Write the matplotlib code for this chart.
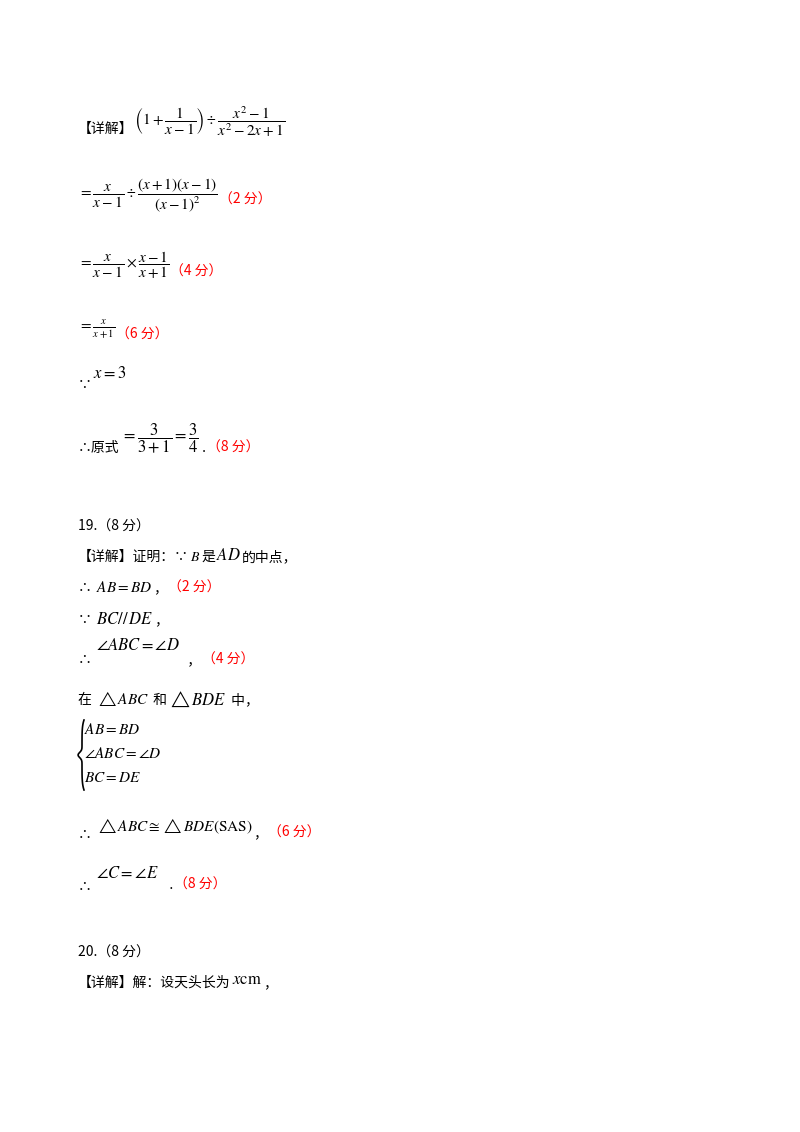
import matplotlib
matplotlib.use("Agg")
import matplotlib.pyplot as plt
from matplotlib.lines import Line2D
import numpy as np

plt.rcParams['font.family'] = ['Noto Sans CJK SC', 'DejaVu Sans']
plt.rcParams['mathtext.fontset'] = 'stix'

W, H = 800, 1132
RED = '#ff0000'
K = 'k'

# rows: (start_x_px, y_px_from_top, [(text, color, fontsize, dy_px), ...])
rows = [
    (78, 125, [("【详解】", K, 10, 4),
               (r"$\left(1+\dfrac{1}{x-1}\right)\div\dfrac{x^2-1}{x^2-2x+1}$", K, 11, -3)]),
    (78, 195, [(r"$=\dfrac{x}{x-1}\div\dfrac{(x+1)(x-1)}{(x-1)^2}$", K, 11, 0),
               ("（2 分）", RED, 10, 5)]),
    (78, 265, [(r"$=\dfrac{x}{x-1}\times\dfrac{x-1}{x+1}$", K, 11, 0),
               ("（4 分）", RED, 10, 7)]),
    (78, 330, [(r"$=\frac{x}{x+1}$", K, 11, 0),
               ("（6 分）", RED, 10, 5)]),
    (78, 377, [("∵", K, 10, 8), (r"$x=3$", K, 12, -4)]),
    (78, 441, [("∴原式", K, 10, 7), (r"$=\dfrac{3}{3+1}=\dfrac{3}{4}$", K, 12, -3),
               (" .", K, 10, 7), ("（8 分）", RED, 10, 7)]),
    (78, 527, [("19.（8 分）", K, 10, 0)]),
    (78, 557, [("【详解】证明：∵", K, 10, 0), (r"$B$", K, 10, 0), ("是", K, 10, 0),
               (r"$AD$", K, 12, -1), ("的中点，", K, 10, 0)]),
    (78, 588, [("∴ ", K, 10, 0), (r"$AB=BD$", K, 11, 0), ("，", K, 10, 0),
               ("（2 分）", RED, 10, 0)]),
    (78, 620, [("∵ ", K, 10, 0), (r"$BC//\,DE$", K, 12, 0), ("，", K, 10, 0)]),
    (78, 654, [("∴ ", K, 10, 6), (r"$\angle ABC=\angle D$", K, 12, -8), ("  ，", K, 10, 6),
               ("（4 分）", RED, 10, 6)]),
    (78, 700, [("在 ", K, 10, 0), (r"$\triangle ABC$", K, 11, -1), (" 和", K, 10, 0),
               (r"$\triangle BDE$", K, 12, -1), (" 中，", K, 10, 0)]),
    (84, 730, [(r"$AB=BD$", K, 11, 0)]),
    (84, 754, [(r"$\angle ABC=\angle D$", K, 11, 0)]),
    (84, 778, [(r"$BC=DE$", K, 11, 0)]),
    (78, 830, [("∴ ", K, 10, 5), (r"$\triangle ABC\cong\triangle BDE\left(\mathrm{SAS}\right)$", K, 11, -4),
               ("，", K, 10, 3), ("（6 分）", RED, 10, 3)]),
    (78, 880, [("∴ ", K, 10, 7), (r"$\angle C=\angle E$", K, 12, -7), ("   .", K, 10, 5),
               ("（8 分）", RED, 10, 5)]),
    (78, 953, [("20.（8 分）", K, 10, 0)]),
    (78, 983, [("【详解】解：设天头长为", K, 10, 0), (r"$x\mathrm{cm}$", K, 12, -3), ("，", K, 10, 0)]),
]

fig = plt.figure(figsize=(W / 100, H / 100), dpi=100)
fig.patch.set_facecolor('white')
renderer = fig.canvas.get_renderer()
for x0, y, segs in rows:
    x = x0
    for t, c, s, dy in segs:
        txt = fig.text(x / W, 1 - (y + dy) / H, t, color=c, fontsize=s,
                       ha='left', va='center')
        bb = txt.get_window_extent(renderer=renderer)
        x += bb.width + 1

# curly brace of the equation system
ys = np.linspace(720, 790, 50)
mid = 755
xs = 82 - 4 * np.exp(-((ys - mid) / 3.5) ** 2) + 2 * (np.abs(ys - mid) / 35) ** 6
fig.add_artist(Line2D(xs / W, 1 - ys / H, color='k', lw=1.2))
fig.savefig("out.png", dpi=100, facecolor='white')
